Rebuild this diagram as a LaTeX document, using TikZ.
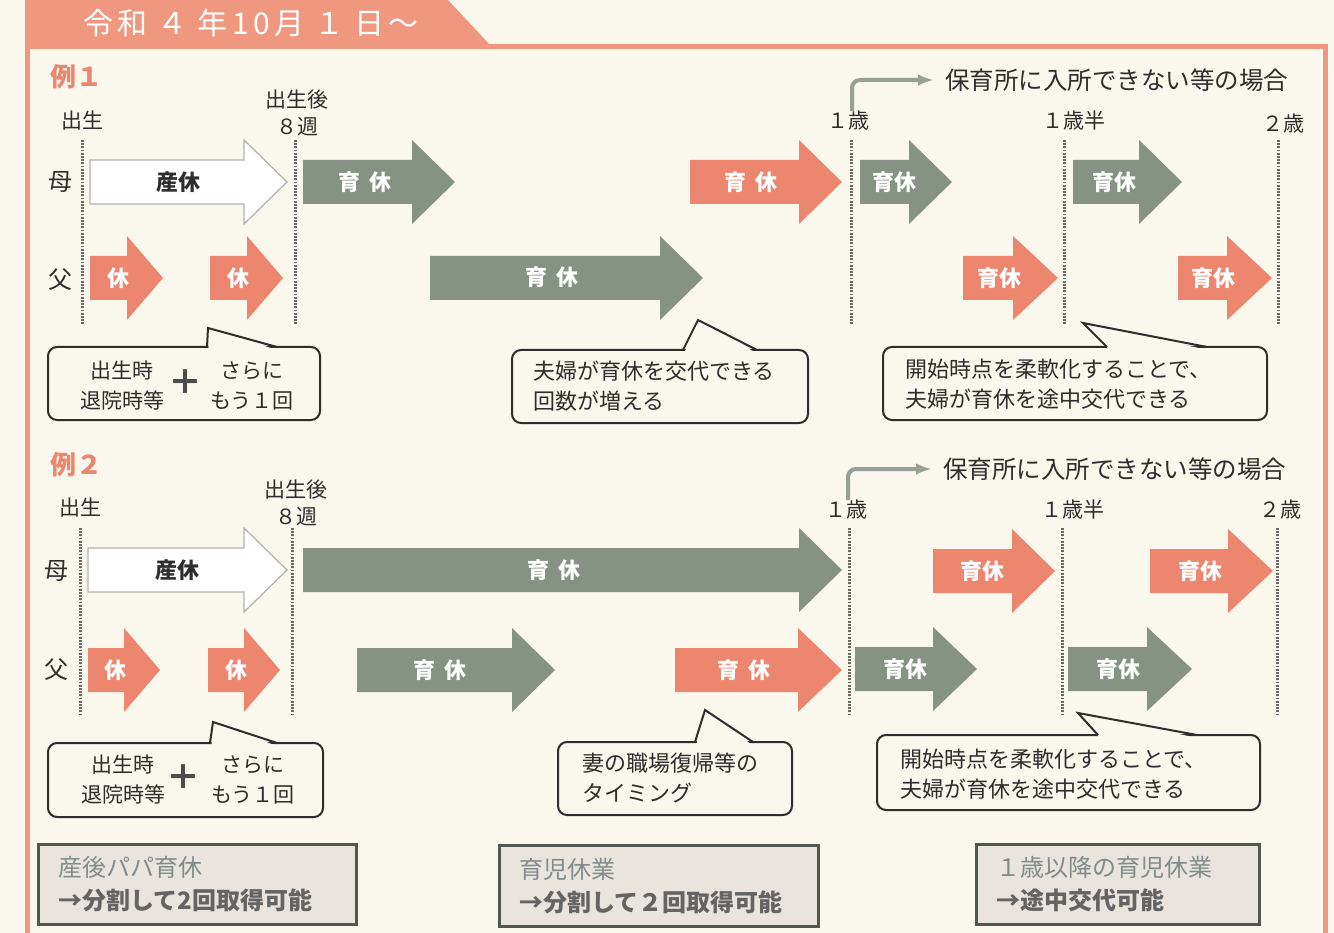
\documentclass[tikz,border=0pt]{standalone}
\usepackage{fontspec}
\setmainfont{Noto Sans CJK JP}
\newfontfamily\titlefont[LetterSpace=15]{Noto Sans CJK JP}
\usetikzlibrary{arrows}
\definecolor{paper}{RGB}{250,247,237}
\definecolor{salmon}{RGB}{237,134,110}
\definecolor{framered}{RGB}{239,152,127}
\definecolor{sage}{RGB}{134,147,132}
\definecolor{elbow}{RGB}{150,160,150}
\definecolor{ink}{RGB}{45,45,45}
\definecolor{tickgray}{RGB}{105,105,105}
\definecolor{boxfill}{RGB}{234,228,222}
\definecolor{boxline}{RGB}{80,86,80}
\definecolor{boxhead}{RGB}{128,140,140}
\definecolor{boxbody}{RGB}{100,100,100}
\newcommand\blockarrow[5]{\path[#1] (#2,#4-22) -- (#3-#5,#4-22) -- (#3-#5,#4-42) -- (#3,#4) -- (#3-#5,#4+42) -- (#3-#5,#4+22) -- (#2,#4+22) -- cycle;}
\newcommand\speech[7]{\draw[balloon] (#1,#2) rectangle (#3,#4);
  \fill[paper] (#5+1.5,#2+2.5) -- #7 -- (#6-1.5,#2+2.5) -- cycle;
  \draw[baledge] (#5,#2) -- #7 -- (#6,#2);}
\begin{document}
\begin{tikzpicture}[x=1pt,y=-1pt,
  every node/.style={inner sep=0pt,text=ink},
  lbl/.style={font=\fontsize{21}{27}\selectfont,align=center},
  who/.style={font=\fontsize{24}{24}\selectfont},
  exlbl/.style={font=\bfseries\fontsize{26}{26}\selectfont,text=salmon},
  onarrow/.style={font=\bfseries\fontsize{22}{22}\selectfont,text=white},
  leave/.style={font=\bfseries\fontsize{22}{22}\selectfont},
  tick/.style={draw=tickgray,line width=3pt,dash pattern=on 1.8pt off 1.4pt},
  balloon/.style={draw=ink,line width=2pt,fill=paper,rounded corners=9pt},
  baledge/.style={draw=ink,line width=2pt},
  note/.style={font=\fontsize{22}{30}\selectfont,align=left,anchor=west},
  plus/.style={font=\bfseries\fontsize{34}{34}\selectfont,text=ink!85},
  nursery/.style={font=\fontsize{24.5}{24.5}\selectfont,anchor=west},
  goes/.style={draw=elbow,line width=4pt,rounded corners=8pt,-latex},
  sumbox/.style={draw=boxline,line width=2.5pt,fill=boxfill,anchor=north west,inner xsep=20pt,
    align=left,font=\fontsize{24}{33}\selectfont,text=boxhead}]
\useasboundingbox (0,0) rectangle (1334,933);
\fill[paper] (0,0) rectangle (1334,933);
\draw[framered,line width=5pt] (27,940) -- (27,47) -- (1325,47) -- (1325,940);
\fill[framered] (25,0) -- (448,0) -- (492,47) -- (25,47) -- cycle;
\node[font=\titlefont\fontsize{30}{30}\selectfont,text=white] (title) at (251,23)
  {令和\hspace{10pt}４\hspace{10pt}年10月\hspace{10pt}１\hspace{10pt}日～};

\node[exlbl] (ex1) at (76,77) {例１};
\node[lbl] (b1) at (82,121) {出生};
\node[lbl] (w1) at (297,113) {出生後\\８週};
\node[lbl] (a1) at (848,121) {１歳};
\node[lbl] (h1) at (1074,121) {１歳半};
\node[lbl] (t1) at (1283,124) {２歳};
\node[who] (m1) at (60,182) {母};
\node[who] (f1) at (60,280) {父};
\node[nursery] (n1) at (945,80) {保育所に入所できない等の場合};
\draw[goes] ([xshift=4pt]a1.north) |- ([xshift=-12pt]n1.west);
\foreach \x in {82,295,851,1064,1278} \draw[tick] (\x,140) -- (\x,325);
\blockarrow{fill=white,draw=gray!60,line width=1.2pt}{90}{287}{182}{43}
\blockarrow{fill=sage}{303}{455}{182}{43}
\blockarrow{fill=salmon}{690}{842}{182}{43}
\blockarrow{fill=sage}{860}{952}{182}{43}
\blockarrow{fill=sage}{1073}{1182}{182}{43}
\blockarrow{fill=salmon}{90}{163}{278}{36}
\blockarrow{fill=salmon}{210}{283}{278}{36}
\blockarrow{fill=sage}{430}{703}{278}{43}
\blockarrow{fill=salmon}{963}{1058}{278}{45}
\blockarrow{fill=salmon}{1178}{1272}{278}{45}
\node[leave] (s1) at (178,182) {産休};
\node[onarrow] (g1) at (365,182) {育\hspace{.4em}休};
\node[onarrow] (g2) at (751,182) {育\hspace{.4em}休};
\node[onarrow] (g3) at (894,182) {育休};
\node[onarrow] (g4) at (1114,182) {育休};
\node[onarrow] (k1) at (118,278) {休};
\node[onarrow] (k2) at (238,278) {休};
\node[onarrow] (g5) at (552,277) {育\hspace{.4em}休};
\node[onarrow] (g6) at (999,278) {育休};
\node[onarrow] (g7) at (1213,278) {育休};
\speech{48}{347}{320}{420}{207}{277}{(208,328)}
\node[lbl,font=\fontsize{21}{30}\selectfont] (c1a) at (122,386) {出生時\\退院時等};
\node[plus] (p1) at (185,382) {＋};
\node[lbl,font=\fontsize{21}{30}\selectfont] (c1b) at (252,386) {さらに\\もう１回};
\speech{512}{350}{808}{423}{683}{757}{(698,320)}
\node[note] (c2) at (533,386) {夫婦が育休を交代できる\\回数が増える};
\speech{883}{347}{1267}{420}{1107}{1207}{(1083,323)}
\node[note] (c3) at (905,384) {開始時点を柔軟化することで、\\夫婦が育休を途中交代できる};

\node[exlbl] (ex2) at (76,465) {例２};
\node[lbl] (b2) at (80,508) {出生};
\node[lbl] (w2) at (296,503) {出生後\\８週};
\node[lbl] (a2) at (846,510) {１歳};
\node[lbl] (h2) at (1073,510) {１歳半};
\node[lbl] (t2) at (1280,510) {２歳};
\node[who] (m2) at (57,571) {母};
\node[who] (f2) at (57,670) {父};
\node[nursery] (n2) at (943,469) {保育所に入所できない等の場合};
\draw[goes] ([xshift=2pt]a2.north) |- ([xshift=-12pt]n2.west);
\foreach \x in {80,292,849,1062,1277} \draw[tick] (\x,528) -- (\x,715);
\blockarrow{fill=white,draw=gray!60,line width=1.2pt}{88}{287}{570}{43}
\blockarrow{fill=sage}{303}{842}{570}{43}
\blockarrow{fill=salmon}{933}{1055}{571}{43}
\blockarrow{fill=salmon}{1150}{1273}{571}{45}
\blockarrow{fill=salmon}{88}{160}{670}{36}
\blockarrow{fill=salmon}{208}{280}{670}{36}
\blockarrow{fill=sage}{357}{555}{670}{43}
\blockarrow{fill=salmon}{675}{842}{670}{44}
\blockarrow{fill=sage}{855}{977}{669}{44}
\blockarrow{fill=sage}{1068}{1192}{669}{45}
\node[leave] (s2) at (177,570) {産休};
\node[onarrow] (g8) at (554,570) {育\hspace{.4em}休};
\node[onarrow] (g9) at (982,571) {育休};
\node[onarrow] (g10) at (1200,571) {育休};
\node[onarrow] (k3) at (115,670) {休};
\node[onarrow] (k4) at (236,670) {休};
\node[onarrow] (g11) at (440,670) {育\hspace{.4em}休};
\node[onarrow] (g12) at (744,670) {育\hspace{.4em}休};
\node[onarrow] (g13) at (905,669) {育休};
\node[onarrow] (g14) at (1118,669) {育休};
\speech{48}{743}{323}{817}{210}{277}{(213,722)}
\node[lbl,font=\fontsize{21}{30}\selectfont] (c4a) at (123,780) {出生時\\退院時等};
\node[plus] (p2) at (183,777) {＋};
\node[lbl,font=\fontsize{21}{30}\selectfont] (c4b) at (253,780) {さらに\\もう１回};
\speech{558}{742}{792}{815}{695}{753}{(705,710)}
\node[note] (c5) at (582,778) {妻の職場復帰等の\\タイミング};
\speech{877}{735}{1260}{810}{1098}{1197}{(1078,713)}
\node[note] (c6) at (900,774) {開始時点を柔軟化することで、\\夫婦が育休を途中交代できる};

\node[sumbox,text width=278pt,minimum height=80pt] (r1) at (37,843) {産後パパ育休\\{\bfseries\color{boxbody}→分割して2回取得可能}};
\node[sumbox,text width=279pt,minimum height=81pt] (r2) at (498,844) {育児休業\\{\bfseries\color{boxbody}→分割して２回取得可能}};
\node[sumbox,text width=243pt,minimum height=80pt] (r3) at (975,843) {１歳以降の育児休業\\{\bfseries\color{boxbody}→途中交代可能}};
\end{tikzpicture}
\end{document}
